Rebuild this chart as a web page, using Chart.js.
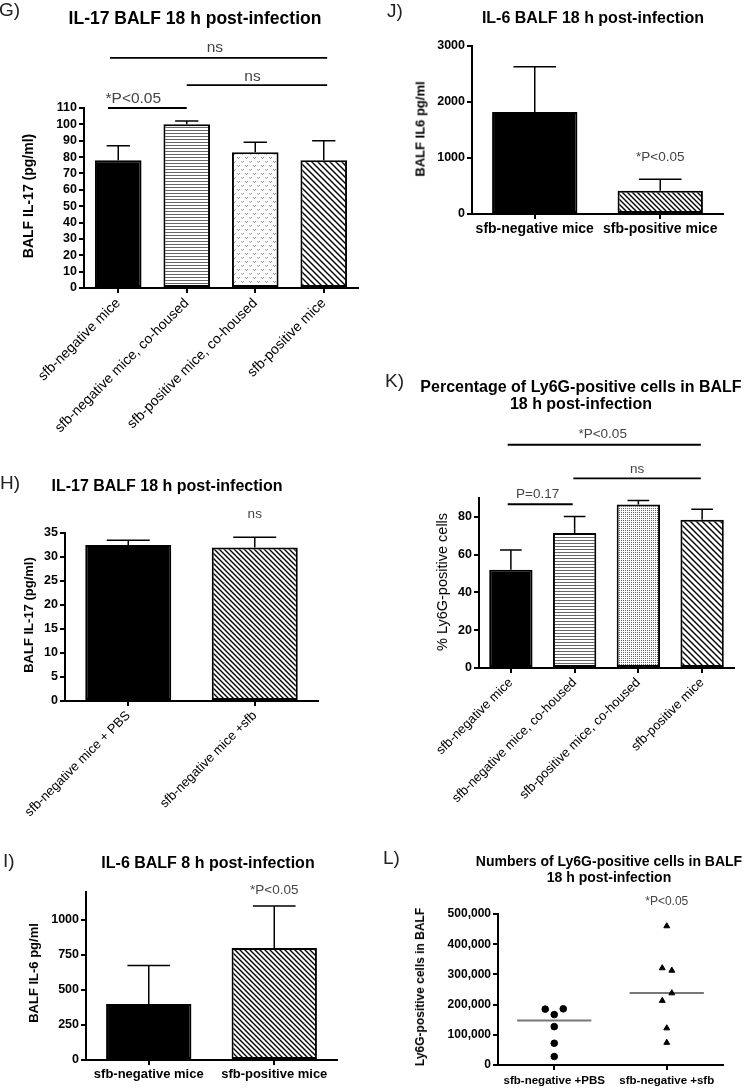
<!DOCTYPE html>
<html>
<head>
<meta charset="utf-8">
<script src="https://cdn.jsdelivr.net/npm/chart.js@4.4.1/dist/chart.umd.min.js"></script>
<style>
  body { margin: 0; background: #fff; font-family: "Liberation Sans", Arial, sans-serif; }
  #page { position: relative; width: 750px; height: 1091px; overflow: hidden; }
  canvas { position: absolute; }
  .t { position: absolute; font-weight: bold; text-align: center; white-space: nowrap; color: #000; transform: translate(-50%, -50%); }
  .lt { position: absolute; font-size: 19px; color: #222; line-height: 1; transform: translateY(-50%); }
  .yt { position: absolute; white-space: nowrap; color: #000; transform: translate(-50%, -50%) rotate(-90deg); }
</style>
</head>
<body>
<div id="page">
  <canvas id="chartG"></canvas>
  <canvas id="chartJ"></canvas>
  <canvas id="chartH"></canvas>
  <canvas id="chartK"></canvas>
  <canvas id="chartI"></canvas>
  <canvas id="chartL"></canvas>

  <div class="lt" style="left:-1px;top:9px">G)</div>
  <div class="t" style="left:195px;top:18px;font-size:17.5px">IL-17 BALF 18 h post-infection</div>
  <div class="yt" style="left:28px;top:196px;font-size:14px;font-weight:bold">BALF IL-17 (pg/ml)</div>

  <div class="lt" style="left:387px;top:10px">J)</div>
  <div class="t" style="left:593px;top:18px;font-size:16px">IL-6 BALF 18 h post-infection</div>
  <div class="yt" style="left:420px;top:129px;font-size:13px;font-weight:bold">BALF IL6 pg/ml</div>

  <div class="lt" style="left:0px;top:482px">H)</div>
  <div class="t" style="left:167px;top:486px;font-size:16px">IL-17 BALF 18 h post-infection</div>
  <div class="yt" style="left:28px;top:615px;font-size:13px;font-weight:bold">BALF IL-17 (pg/ml)</div>

  <div class="lt" style="left:385px;top:380px">K)</div>
  <div class="t" style="left:581px;top:395px;font-size:16px;line-height:17px">Percentage of Ly6G-positive cells in BALF<br>18 h post-infection</div>
  <div class="yt" style="left:442px;top:582px;font-size:14.5px">% Ly6G-positive cells</div>

  <div class="lt" style="left:3px;top:860px">I)</div>
  <div class="t" style="left:208px;top:863px;font-size:16px">IL-6 BALF 8 h post-infection</div>
  <div class="yt" style="left:33px;top:973px;font-size:13px;font-weight:bold">BALF IL-6 pg/ml</div>

  <div class="lt" style="left:383px;top:857px">L)</div>
  <div class="t" style="left:609px;top:870px;font-size:14px;line-height:15.6px">Numbers of Ly6G-positive cells in BALF<br>18 h post-infection</div>
  <div class="yt" style="left:420px;top:987px;font-size:12px;font-weight:bold">Ly6G-positive cells in BALF</div>
</div>

<script>
// G) IL-17 BALF 18 h, four groups
const fourGroups = ["sfb-negative mice", "sfb-negative mice, co-housed", "sfb-positive mice, co-housed", "sfb-positive mice"];
const gMeans = [78, 100, 83, 78];
const gErrors = [9, 2, 6, 12];
const gTicks = [0, 10, 20, 30, 40, 50, 60, 70, 80, 90, 100, 110];

// J) IL-6 BALF 18 h
const twoGroups = ["sfb-negative mice", "sfb-positive mice"];
const jMeans = [1820, 415];
const jErrors = [810, 205];
const jTicks = [0, 1000, 2000, 3000];

// H) IL-17 BALF 18 h, PBS vs sfb
const hGroups = ["sfb-negative mice + PBS", "sfb-negative mice +sfb"];
const hMeans = [32.5, 32];
const hErrors = [1, 2.1];
const hTicks = [0, 5, 10, 15, 20, 25, 30, 35];

// K) % Ly6G-positive cells
const kMeans = [52, 71.5, 86.5, 78.5];
const kErrors = [10.5, 8.7, 2.2, 5.5];
const kTicks = [0, 20, 40, 60, 80];

// I) IL-6 BALF 8 h
const iMeans = [400, 800];
const iErrors = [275, 300];
const iTicks = [0, 250, 500, 750, 1000];

// L) numbers of Ly6G-positive cells (each mouse)
const lGroups = ["sfb-negative +PBS", "sfb-negative +sfb"];
const lPbsValues = [185000, 186000, 167000, 127000, 72000, 28000];
const lPbsJitter = [-0.08, 0.08, 0, 0, 0, 0];
const lSfbValues = [460000, 321000, 313000, 238000, 213000, 122000, 74000];
const lSfbJitter = [0, -0.04, 0.045, 0.045, -0.04, 0, 0];
const lMedians = [147000, 238000];
const lTicks = [0, 100000, 200000, 300000, 400000, 500000];

// fill patterns
function pattern(kind, size) {
  const c = document.createElement("canvas");
  const g = c.getContext("2d");
  c.width = size; c.height = size;
  g.fillStyle = "#fff";
  g.fillRect(0, 0, size, size);
  if (kind === "diag") {
    g.strokeStyle = "#000";
    g.lineWidth = 1.4;
    g.beginPath();
    g.moveTo(-1, -1); g.lineTo(size + 1, size + 1);
    g.moveTo(-1, size - 1); g.lineTo(1, size + 1);
    g.moveTo(size - 1, -1); g.lineTo(size + 1, 1);
    g.stroke();
  } else if (kind === "horiz") {
    g.fillStyle = "#666";
    g.fillRect(0, 1, size, 1);
  } else if (kind === "vdots") {
    g.fillStyle = "#999";
    g.fillRect(1, 1, 1, 1); g.fillRect(3, 1, 1, 1); g.fillRect(2, 2, 1, 1);
    g.fillRect(5, 5, 1, 1); g.fillRect(7, 5, 1, 1); g.fillRect(6, 6, 1, 1);
  } else if (kind === "stipple") {
    g.fillStyle = "#666";
    g.fillRect(0, 0, 1, 1);
  }
  return g.createPattern(c, "repeat");
}

// error bars + significance marks
const extras = {
  id: "extras",
  afterDatasetsDraw(chart, args, opts) {
    const ctx = chart.ctx, xs = chart.scales.x, ys = chart.scales.y;
    ctx.save();
    chart.data.datasets.forEach((ds, di) => {
      if (!ds.errorBars) return;
      chart.getDatasetMeta(di).data.forEach((bar, i) => {
        const top = ys.getPixelForValue(ds.data[i] + ds.errorBars[i]);
        const cap = bar.width * 0.25;
        ctx.strokeStyle = "#000";
        ctx.lineWidth = 1.5;
        ctx.beginPath();
        ctx.moveTo(bar.x, bar.y); ctx.lineTo(bar.x, top);
        ctx.moveTo(bar.x - cap, top); ctx.lineTo(bar.x + cap, top);
        ctx.stroke();
      });
    });
    (opts.marks || []).forEach(m => {
      if (m.from !== undefined) {
        const yy = ys.getPixelForValue(m.line);
        ctx.strokeStyle = "#000";
        ctx.lineWidth = 1.8;
        ctx.beginPath();
        ctx.moveTo(xs.getPixelForValue(m.from), yy);
        ctx.lineTo(xs.getPixelForValue(m.to), yy);
        ctx.stroke();
      }
      ctx.fillStyle = "#444";
      ctx.font = opts.font;
      ctx.textAlign = "center";
      ctx.textBaseline = "middle";
      ctx.fillText(m.text, xs.getPixelForValue(m.at), ys.getPixelForValue(m.textY));
    });
    ctx.restore();
  }
};

const FONT = "'Liberation Sans', Arial, sans-serif";
const axisLine = { display: true, color: "#000", width: 2 };
const tickMarks = { display: true, drawOnChartArea: false, drawTicks: true, tickLength: 5, color: "#000", lineWidth: 2, offset: false };

// box = canvas [left, top, width, height], area = chart area [left, top, right, bottom] on the page
function makeChart(id, box, area, config) {
  const cv = document.getElementById(id);
  cv.style.left = box[0] + "px";
  cv.style.top = box[1] + "px";
  cv.width = box[2];
  cv.height = box[3];
  const o = config.options;
  o.responsive = false;
  o.animation = false;
  o.layout = { padding: { left: 0, top: area[1] - box[1], right: box[0] + box[2] - area[2], bottom: 0 } };
  o.scales.y.afterFit = s => { s.width = area[0] - box[0]; };
  o.scales.x.afterFit = s => { s.height = box[1] + box[3] - area[3]; };
  o.plugins = Object.assign({ legend: { display: false }, tooltip: { enabled: false } }, o.plugins);
  config.plugins = [extras];
  return new Chart(cv, config);
}

function barChart(id, box, area, labels, means, errors, fills, yMax, yTicks, xFont, rotated, marks, markFont) {
  return makeChart(id, box, area, {
    type: "bar",
    data: {
      labels: labels,
      datasets: [{
        data: means,
        errorBars: errors,
        backgroundColor: fills,
        borderColor: "#000",
        borderWidth: 2,
        borderSkipped: false,
        categoryPercentage: 1,
        barPercentage: 0.68
      }]
    },
    options: {
      scales: {
        x: {
          border: axisLine,
          grid: tickMarks,
          ticks: {
            color: "#000",
            font: xFont,
            autoSkip: false,
            padding: 2,
            minRotation: rotated ? 45 : 0,
            maxRotation: rotated ? 45 : 0
          }
        },
        y: {
          min: 0,
          max: yMax,
          border: axisLine,
          grid: tickMarks,
          afterBuildTicks: s => { s.ticks = yTicks.map(v => ({ value: v })); },
          ticks: {
            color: "#000",
            font: { family: FONT, size: 12.5, weight: "bold" },
            padding: 2,
            autoSkip: false,
            callback: v => String(v)
          }
        }
      },
      plugins: { extras: { marks: marks, font: markFont } }
    }
  });
}

const diag6 = pattern("diag", 6), diag5 = pattern("diag", 5);

// G
barChart("chartG", [0, 0, 375, 450], [84, 108, 358, 288], fourGroups, gMeans, gErrors,
  ["#000", pattern("horiz", 3), pattern("vdots", 8), diag6],
  110, gTicks,
  { family: FONT, size: 14 }, true,
  [
    { from: -0.15, to: 1, line: 110, text: "*P<0.05", at: 0.22, textY: 115.5 },
    { from: 1, to: 3.05, line: 124, text: "ns", at: 1.96, textY: 129 },
    { from: -0.12, to: 3.05, line: 140.6, text: "ns", at: 1.41, textY: 146.7 }
  ], "15.5px " + FONT);

// J
barChart("chartJ", [375, 0, 375, 250], [472, 46, 723, 214], twoGroups, jMeans, jErrors,
  ["#000", diag5],
  3000, jTicks,
  { family: FONT, size: 14, weight: "bold" }, false,
  [{ text: "*P<0.05", at: 1, textY: 1016 }], "13.5px " + FONT);

// H
barChart("chartH", [0, 455, 375, 380], [65, 533, 318, 701], hGroups, hMeans, hErrors,
  ["#000", diag5],
  35, hTicks,
  { family: FONT, size: 13 }, true,
  [{ text: "ns", at: 1, textY: 38.9 }], "13.5px " + FONT);

// K
barChart("chartK", [375, 350, 375, 480], [479, 498, 734, 668], fourGroups, kMeans, kErrors,
  ["#000", pattern("horiz", 3), pattern("stipple", 2), diag6],
  90, kTicks,
  { family: FONT, size: 13 }, true,
  [
    { from: -0.05, to: 0.97, line: 86.7, text: "P=0.17", at: 0.42, textY: 91.9 },
    { from: 0.98, to: 2.98, line: 100.4, text: "ns", at: 1.98, textY: 105.2 },
    { from: -0.05, to: 2.98, line: 118.2, text: "*P<0.05", at: 1.44, textY: 123.5 }
  ], "13.5px " + FONT);

// I
barChart("chartI", [0, 840, 375, 251], [86, 892, 337, 1060], twoGroups, iMeans, iErrors,
  ["#000", diag5],
  1200, iTicks,
  { family: FONT, size: 13, weight: "bold" }, false,
  [{ text: "*P<0.05", at: 1, textY: 1214 }], "13.5px " + FONT);

// L scatter
const medianLine = (c, m) => [{ x: c - 0.33, y: m }, { x: c + 0.33, y: m }];
makeChart("chartL", [375, 840, 375, 251], [498, 914, 723, 1065], {
  type: "scatter",
  data: {
    datasets: [
      {
        data: lPbsValues.map((v, i) => ({ x: 1 + lPbsJitter[i], y: v })),
        pointStyle: "circle", pointRadius: 3.3, backgroundColor: "#000", borderColor: "#000"
      },
      {
        data: lSfbValues.map((v, i) => ({ x: 2 + lSfbJitter[i], y: v })),
        pointStyle: "triangle", pointRadius: 3.4, backgroundColor: "#000", borderColor: "#000"
      },
      {
        type: "line", data: medianLine(1, lMedians[0]),
        borderColor: "#777", borderWidth: 2, pointRadius: 0
      },
      {
        type: "line", data: medianLine(2, lMedians[1]),
        borderColor: "#777", borderWidth: 2, pointRadius: 0
      }
    ]
  },
  options: {
    scales: {
      x: {
        type: "linear", min: 0.5, max: 2.5,
        border: axisLine, grid: tickMarks,
        afterBuildTicks: s => { s.ticks = [{ value: 1 }, { value: 2 }]; },
        ticks: {
          color: "#000", padding: 4,
          font: { family: FONT, size: 11.5, weight: "bold" },
          callback: v => lGroups[v - 1]
        }
      },
      y: {
        min: 0, max: 500000,
        border: axisLine, grid: tickMarks,
        afterBuildTicks: s => { s.ticks = lTicks.map(v => ({ value: v })); },
        ticks: {
          color: "#000", padding: 2, autoSkip: false,
          font: { family: FONT, size: 12, weight: "bold" },
          callback: v => v.toLocaleString("en-US")
        }
      }
    },
    plugins: { extras: { marks: [{ text: "*P<0.05", at: 2, textY: 542000 }], font: "12px " + FONT } }
  }
});
</script>
</body>
</html>
